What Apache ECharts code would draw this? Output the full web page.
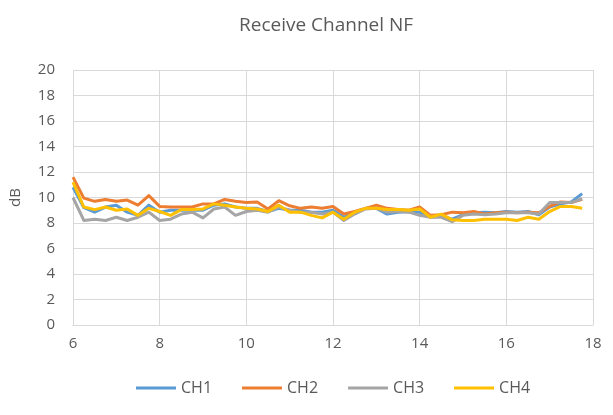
<!DOCTYPE html>
<html>
<head>
<meta charset="utf-8">
<script src="https://cdn.jsdelivr.net/npm/echarts@6/dist/echarts.min.js"></script>
<style>
  html, body { margin: 0; padding: 0; background: #fff; }
  #chart { width: 613px; height: 415px; }
</style>
</head>
<body>
<div id="chart"></div>
<script>
// frequency points, 6 to 17.75 step 0.25
var freqs = [];
for (var f = 6; f <= 17.75; f += 0.25) freqs.push(f);

var ch1 = [10.8, 9.2, 8.85, 9.25, 9.4, 8.85, 8.6, 9.4, 8.85, 9.0, 9.0, 9.0,
	9.0, 9.4, 9.5, 9.25, 9.15, 9.15, 8.9, 9.15, 9.0, 9.0, 8.85, 8.85,
	9.0, 8.45, 8.85, 9.15, 9.15, 8.7, 8.85, 8.9, 8.85, 8.45, 8.55, 8.3,
	8.65, 8.8, 8.85, 8.8, 8.9, 8.85, 8.9, 8.65, 9.25, 9.5, 9.65, 10.3];
var ch2 = [11.6, 9.95, 9.7, 9.85, 9.7, 9.8, 9.4, 10.15, 9.3, 9.25, 9.25, 9.25,
	9.5, 9.5, 9.85, 9.7, 9.6, 9.65, 9.1, 9.75, 9.35, 9.15, 9.25, 9.15,
	9.3, 8.7, 8.9, 9.15, 9.4, 9.15, 9.05, 9.0, 9.25, 8.6, 8.65, 8.85,
	8.8, 8.9, 8.7, 8.8, 8.85, 8.8, 8.85, 8.8, 9.3, 9.65, 9.6, 9.85];
var ch3 = [10.0, 8.2, 8.3, 8.2, 8.45, 8.2, 8.45, 8.85, 8.2, 8.3, 8.7, 8.85,
	8.4, 9.1, 9.25, 8.6, 8.9, 9.0, 8.85, 9.25, 9.0, 8.85, 8.85, 8.7,
	8.85, 8.2, 8.7, 9.1, 9.15, 8.85, 8.9, 8.85, 8.6, 8.45, 8.45, 8.1,
	8.6, 8.7, 8.65, 8.7, 8.8, 8.8, 8.8, 8.7, 9.6, 9.6, 9.6, 9.9];
var ch4 = [11.2, 9.25, 9.05, 9.25, 9.0, 9.1, 8.6, 9.15, 8.9, 8.6, 9.05, 9.05,
	9.1, 9.5, 9.4, 9.25, 9.15, 9.1, 8.9, 9.4, 8.85, 8.85, 8.6, 8.4,
	8.85, 8.3, 8.85, 9.15, 9.15, 9.05, 9.05, 9.0, 9.1, 8.45, 8.7, 8.25,
	8.2, 8.2, 8.3, 8.3, 8.3, 8.2, 8.45, 8.3, 8.9, 9.3, 9.3, 9.15];

var names = ['CH1', 'CH2', 'CH3', 'CH4'];
var colors = ['#5B9BD5', '#ED7D31', '#A5A5A5', '#FFC000'];

function pairs(vals) {
	return vals.map(function (v, i) { return [freqs[i], v]; });
}

var chart = echarts.init(document.getElementById('chart'), null, {renderer: 'canvas'});
var seriesList = [ch1, ch2, ch3, ch4].map(function (vals, i) {
	return {
		name: names[i],
		type: 'line',
		data: pairs(vals),
		showSymbol: false,
		symbol: 'none',
		lineStyle: {width: 3, color: colors[i], join: 'round'},
		itemStyle: {color: colors[i]}
	};
});

chart.setOption({
	animation: false,
	textStyle: {fontFamily: 'Open Sans, Liberation Sans, sans-serif'},
	title: {
		text: 'Receive Channel NF',
		left: 234,
		top: 11,
		textStyle: {fontSize: 19, fontWeight: 'normal', color: '#595959', fontFamily: 'Open Sans'}
	},
	legend: {
		data: names,
		bottom: 14,
		left: 131,
		itemWidth: 40,
		itemHeight: 3,
		itemGap: 30,
		icon: 'rect',
		textStyle: {fontSize: 16, color: '#595959', fontFamily: 'Open Sans'}
	},
	grid: {left: 73, right: 20, top: 70, bottom: 90, containLabel: false},
	xAxis: {
		type: 'value',
		min: 6,
		max: 18,
		interval: 2,
		axisLine: {show: true, lineStyle: {color: '#D9D9D9', width: 1}},
		axisTick: {show: false},
		axisLabel: {color: '#595959', fontSize: 15, margin: 11, fontFamily: 'Open Sans'},
		splitLine: {show: true, lineStyle: {color: '#D9D9D9', width: 1}}
	},
	yAxis: {
		type: 'value',
		min: 0,
		max: 20,
		interval: 2,
		name: 'dB',
		nameLocation: 'middle',
		nameGap: 50,
		nameTextStyle: {color: '#595959', fontSize: 15, fontFamily: 'Open Sans'},
		axisLine: {show: false},
		axisTick: {show: false},
		axisLabel: {color: '#595959', fontSize: 15, margin: 18, fontFamily: 'Open Sans'},
		splitLine: {show: true, lineStyle: {color: '#D9D9D9', width: 1}}
	},
	series: seriesList
});
</script>
</body>
</html>
